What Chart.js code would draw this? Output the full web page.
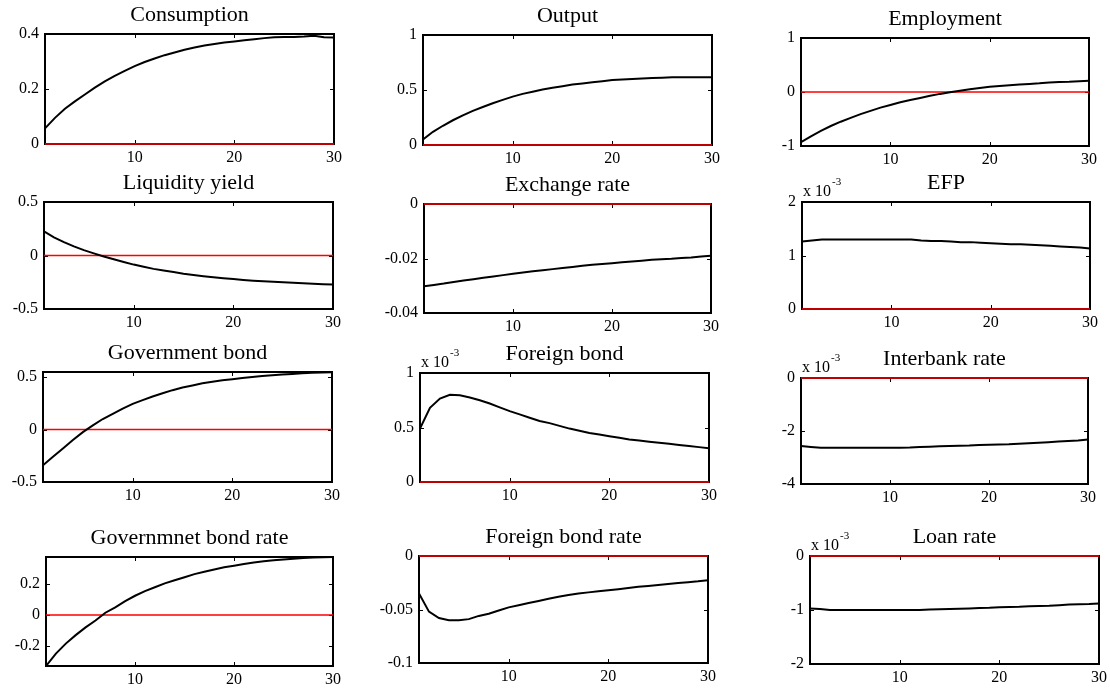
<!DOCTYPE html>
<html>
<head>
<meta charset="utf-8">
<script src="https://cdn.jsdelivr.net/npm/chart.js@4.4.1/dist/chart.umd.min.js"></script>
<style>
  body { margin: 0; background: #fff; width: 1110px; height: 690px; position: relative; overflow: hidden; }
  canvas { position: absolute; }
</style>
</head>
<body>
<script>
// horizon (quarters after the shock)
const periods = [1,2,3,4,5,6,7,8,9,10,11,12,13,14,15,16,17,18,19,20,21,22,23,24,25,26,27,28,29,30];
const xTicks = [10, 20, 30];

// impulse responses
const consumption = [0.057,0.095,0.128,0.155,0.18,0.205,0.228,0.248,0.266,0.283,0.298,0.311,0.323,0.333,0.343,0.351,0.358,0.364,0.369,0.373,0.377,0.381,0.385,0.388,0.389,0.389,0.391,0.394,0.388,0.387];
const output = [0.05,0.12,0.175,0.225,0.27,0.31,0.345,0.38,0.41,0.44,0.465,0.485,0.505,0.52,0.535,0.55,0.56,0.57,0.58,0.59,0.595,0.6,0.605,0.61,0.612,0.615,0.615,0.615,0.615,0.615];
const employment = [-0.93,-0.82,-0.72,-0.63,-0.55,-0.48,-0.41,-0.35,-0.29,-0.24,-0.19,-0.15,-0.11,-0.07,-0.035,-0.005,0.025,0.05,0.075,0.095,0.11,0.125,0.14,0.15,0.16,0.175,0.185,0.19,0.2,0.21];
const liquidityYield = [0.225,0.17,0.125,0.085,0.05,0.02,-0.01,-0.035,-0.06,-0.085,-0.105,-0.125,-0.14,-0.155,-0.17,-0.182,-0.193,-0.203,-0.212,-0.22,-0.228,-0.235,-0.24,-0.245,-0.25,-0.255,-0.26,-0.265,-0.268,-0.272];
const exchangeRate = [-0.0302,-0.0297,-0.0292,-0.0286,-0.0281,-0.0276,-0.0271,-0.0266,-0.0261,-0.0256,-0.0251,-0.0247,-0.0243,-0.0239,-0.0235,-0.0231,-0.0227,-0.0223,-0.022,-0.0217,-0.0214,-0.0211,-0.0208,-0.0205,-0.0203,-0.0201,-0.0198,-0.0196,-0.0193,-0.019];
const efp = [1.26,1.28,1.3,1.3,1.3,1.3,1.3,1.3,1.3,1.3,1.3,1.3,1.28,1.27,1.27,1.26,1.25,1.25,1.24,1.23,1.22,1.21,1.21,1.2,1.19,1.18,1.17,1.16,1.15,1.13]; // x 10^-3
const governmentBond = [-0.34,-0.26,-0.18,-0.1,-0.025,0.04,0.1,0.15,0.2,0.245,0.28,0.315,0.345,0.375,0.4,0.42,0.44,0.455,0.47,0.48,0.49,0.5,0.51,0.518,0.525,0.53,0.535,0.54,0.543,0.545];
const foreignBond = [0.49,0.68,0.765,0.8,0.795,0.775,0.75,0.72,0.685,0.65,0.62,0.59,0.56,0.54,0.515,0.49,0.47,0.45,0.435,0.42,0.405,0.39,0.38,0.37,0.36,0.35,0.34,0.33,0.32,0.31]; // x 10^-3
const interbankRate = [-2.57,-2.6,-2.63,-2.63,-2.63,-2.63,-2.63,-2.63,-2.63,-2.63,-2.63,-2.62,-2.6,-2.59,-2.58,-2.57,-2.56,-2.55,-2.53,-2.52,-2.51,-2.5,-2.48,-2.46,-2.44,-2.42,-2.4,-2.38,-2.36,-2.32]; // x 10^-3
const govBondRate = [-0.33,-0.25,-0.185,-0.13,-0.08,-0.035,0.015,0.05,0.09,0.125,0.155,0.18,0.205,0.225,0.245,0.265,0.28,0.295,0.31,0.32,0.33,0.34,0.348,0.355,0.36,0.365,0.37,0.372,0.374,0.376];
const foreignBondRate = [-0.035,-0.052,-0.058,-0.06,-0.06,-0.059,-0.056,-0.054,-0.051,-0.048,-0.046,-0.044,-0.042,-0.04,-0.038,-0.0365,-0.035,-0.034,-0.033,-0.032,-0.031,-0.0298,-0.0288,-0.028,-0.0272,-0.0262,-0.0252,-0.0245,-0.0237,-0.0226];
const loanRate = [-0.97,-0.98,-1.0,-1.0,-1.0,-1.0,-1.0,-1.0,-1.0,-1.0,-1.0,-1.0,-0.99,-0.985,-0.98,-0.975,-0.97,-0.965,-0.96,-0.95,-0.945,-0.94,-0.93,-0.925,-0.92,-0.91,-0.9,-0.895,-0.89,-0.88]; // x 10^-3

// y tick labels per panel
const consumptionTicks = [0, 0.2, 0.4];
const outputTicks = [0, 0.5, 1];
const employmentTicks = [-1, 0, 1];
const liquidityTicks = [-0.5, 0, 0.5];
const exchangeTicks = [-0.04, -0.02, 0];
const efpTicks = [0, 1, 2];
const govBondTicks = [-0.5, 0, 0.5];
const foreignBondTicks = [0, 0.5, 1];
const interbankTicks = [-4, -2, 0];
const govBondRateTicks = [-0.2, 0, 0.2];
const foreignBondRateTicks = [-0.1, -0.05, 0];
const loanRateTicks = [-2, -1, 0];

const panels = [
  { title: 'Consumption', values: consumption, min: 0, max: 0.4, ticks: consumptionTicks },
  { title: 'Output', values: output, min: 0, max: 1, ticks: outputTicks },
  { title: 'Employment', values: employment, min: -1, max: 1, ticks: employmentTicks },
  { title: 'Liquidity yield', values: liquidityYield, min: -0.5, max: 0.5, ticks: liquidityTicks },
  { title: 'Exchange rate', values: exchangeRate, min: -0.04, max: 0, ticks: exchangeTicks },
  { title: 'EFP', values: efp, min: 0, max: 2, ticks: efpTicks, exp: '-3' },
  { title: 'Government bond', values: governmentBond, min: -0.5, max: 0.548, ticks: govBondTicks },
  { title: 'Foreign bond', values: foreignBond, min: 0, max: 1, ticks: foreignBondTicks, exp: '-3' },
  { title: 'Interbank rate', values: interbankRate, min: -4, max: 0, ticks: interbankTicks, exp: '-3' },
  { title: 'Governmnet bond rate', values: govBondRate, min: -0.33, max: 0.376, ticks: govBondRateTicks },
  { title: 'Foreign bond rate', values: foreignBondRate, min: -0.1, max: 0, ticks: foreignBondRateTicks },
  { title: 'Loan rate', values: loanRate, min: -2, max: 0, ticks: loanRateTicks, exp: '-3' }
];

// plot area of each panel on the page: left, top, right, bottom
const boxes = [
  [45, 34, 334, 144], [423, 35, 712, 145], [801, 38, 1089, 146],
  [44, 202, 333, 309], [424, 204, 711, 313], [802, 202, 1090, 309],
  [43, 372, 332, 482], [420, 373, 709, 482], [801, 378, 1088, 484],
  [46, 557, 333, 666], [419, 556, 708, 663], [810, 556, 1099, 664]
];
const PAD_L = 60, PAD_T = 40, PAD_R = 20, PAD_B = 30;
const SERIF = '"Liberation Serif", "Times New Roman", serif';

// MATLAB-like box, inward tick marks, title and exponent note
const framePlugin = {
  id: 'frame',
  beforeDatasetsDraw(chart) {
    const { ctx, chartArea: a, scales: { x, y } } = chart;
    ctx.save();
    ctx.strokeStyle = '#000';
    ctx.lineWidth = 1;
    ctx.beginPath();
    x.ticks.forEach(t => {
      const px = Math.round(x.getPixelForValue(t.value)) + 0.5;
      ctx.moveTo(px, a.bottom); ctx.lineTo(px, a.bottom - 4);
      ctx.moveTo(px, a.top); ctx.lineTo(px, a.top + 4);
    });
    y.ticks.forEach(t => {
      const py = Math.round(y.getPixelForValue(t.value)) + 0.5;
      ctx.moveTo(a.left, py); ctx.lineTo(a.left + 4, py);
      ctx.moveTo(a.right, py); ctx.lineTo(a.right - 4, py);
    });
    ctx.stroke();
    ctx.lineWidth = 2;
    ctx.strokeRect(a.left, a.top, a.right - a.left, a.bottom - a.top);
    ctx.restore();
  },
  afterDraw(chart, args, opts) {
    const { ctx, chartArea: a } = chart;
    ctx.save();
    ctx.fillStyle = '#000';
    ctx.textAlign = 'center';
    ctx.textBaseline = 'alphabetic';
    ctx.font = '22px ' + SERIF;
    ctx.fillText(opts.title, (a.left + a.right) / 2, a.top - 13);
    if (opts.exp) {
      ctx.textAlign = 'left';
      ctx.font = '16px ' + SERIF;
      ctx.fillText('x 10', a.left + 1, a.top - 6);
      const w = ctx.measureText('x 10').width;
      ctx.font = '11px ' + SERIF;
      ctx.fillText(opts.exp, a.left + w + 2, a.top - 17);
    }
    ctx.restore();
  }
};

panels.forEach((p, i) => {
  const [l, t, r, b] = boxes[i];
  const canvas = document.createElement('canvas');
  canvas.width = (r - l) + PAD_L + PAD_R;
  canvas.height = (b - t) + PAD_T + PAD_B;
  canvas.style.left = (l - PAD_L) + 'px';
  canvas.style.top = (t - PAD_T) + 'px';
  document.body.appendChild(canvas);

  new Chart(canvas, {
    type: 'line',
    data: {
      datasets: [
        {
          data: periods.map((q, k) => ({ x: q, y: p.values[k] })),
          borderColor: '#000',
          borderWidth: 2,
          pointRadius: 0,
          tension: 0
        },
        {
          data: periods.map(q => ({ x: q, y: 0 })),
          borderColor: '#ff0000',
          borderWidth: 1.5,
          pointRadius: 0,
          tension: 0,
          clip: 4
        }
      ]
    },
    options: {
      responsive: false,
      animation: false,
      devicePixelRatio: 1,
      events: [],
      layout: { padding: { left: 0, top: PAD_T, right: PAD_R, bottom: 0 } },
      plugins: {
        legend: { display: false },
        tooltip: { enabled: false },
        frame: { title: p.title, exp: p.exp }
      },
      scales: {
        x: {
          type: 'linear',
          min: 1,
          max: 30,
          afterBuildTicks: s => { s.ticks = xTicks.map(v => ({ value: v })); },
          afterFit: s => { s.height = PAD_B; },
          grid: { display: false, drawTicks: false, tickLength: 0 },
          border: { display: false },
          ticks: { color: '#000', font: { family: SERIF, size: 16 }, padding: 4, maxRotation: 0, autoSkip: false }
        },
        y: {
          min: p.min,
          max: p.max,
          afterBuildTicks: s => { s.ticks = p.ticks.map(v => ({ value: v })); },
          afterFit: s => { s.width = PAD_L; },
          grid: { display: false, drawTicks: false, tickLength: 0 },
          border: { display: false },
          ticks: { color: '#000', font: { family: SERIF, size: 16 }, padding: 6, callback: v => String(v) }
        }
      }
    },
    plugins: [framePlugin]
  });
});
</script>
</body>
</html>
